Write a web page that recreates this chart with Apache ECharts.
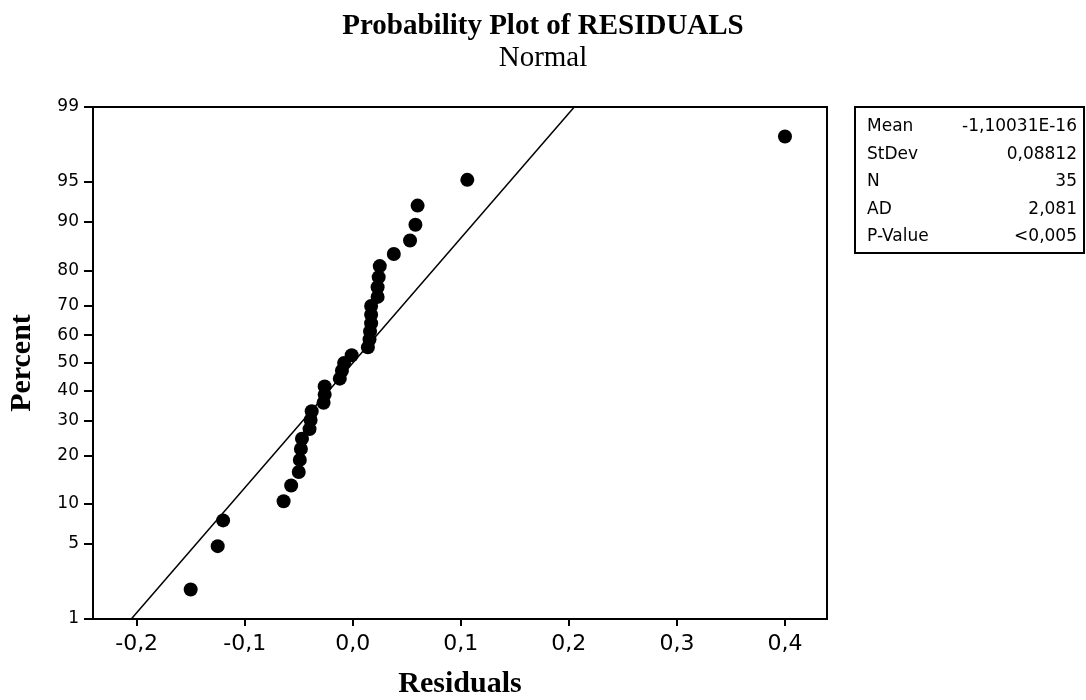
<!DOCTYPE html>
<html>
<head>
<meta charset="utf-8">
<script src="https://cdn.jsdelivr.net/npm/echarts@6/dist/echarts.min.js"></script>
<style>
  html, body { margin: 0; padding: 0; background: #fff; }
  #chart { width: 1086px; height: 700px; }
</style>
</head>
<body>
<div id="chart"></div>
<script>
// residuals, sorted
var residuals = [-0.150, -0.125, -0.120, -0.064, -0.057, -0.050, -0.049, -0.048, -0.047,
  -0.040, -0.039, -0.038, -0.027, -0.026, -0.026, -0.012, -0.010, -0.008, -0.001,
  0.014, 0.0155, 0.016, 0.017, 0.017, 0.017, 0.023, 0.023, 0.024, 0.025,
  0.038, 0.053, 0.058, 0.060, 0.106, 0.400];
// plotted percent for each point
var percents = [1.98, 4.80, 7.63, 10.45, 13.28, 16.10, 18.93, 21.75, 24.58,
  27.40, 30.23, 33.05, 35.88, 38.70, 41.53, 44.35, 47.18, 50.00, 52.82,
  55.65, 58.47, 61.30, 64.12, 66.95, 69.77, 72.60, 75.42, 78.25, 81.07,
  83.90, 86.72, 89.55, 92.37, 95.20, 98.02];
// fitted normal line (ends at 1% and 99%)
var fitX = [-0.205, 0.205];
var fitP = [1, 99];
// axis ticks
var yTickPercents = [1, 5, 10, 20, 30, 40, 50, 60, 70, 80, 90, 95, 99];
var xTicks = [-0.2, -0.1, 0.0, 0.1, 0.2, 0.3, 0.4];
// stats table
var statNames = ['Mean', 'StDev', 'N', 'AD', 'P-Value'];
var statValues = ['-1,10031E-16', '0,08812', '35', '2,081', '<0,005'];

// inverse normal cdf (Acklam) -> probability scale
function probit(p) {
  var a = [-3.969683028665376e+01, 2.209460984245205e+02, -2.759285104469687e+02, 1.383577518672690e+02, -3.066479806614716e+01, 2.506628277459239e+00];
  var b = [-5.447609879822406e+01, 1.615858368580409e+02, -1.556989798598866e+02, 6.680131188771972e+01, -1.328068155288572e+01];
  var c = [-7.784894002430293e-03, -3.223964580411365e-01, -2.400758277161838e+00, -2.549732539343734e+00, 4.374664141464968e+00, 2.938163982698783e+00];
  var d = [7.784695709041462e-03, 3.224671290700398e-01, 2.445134137142996e+00, 3.754408661907416e+00];
  var pl = 0.02425, q, r;
  if (p < pl) {
    q = Math.sqrt(-2 * Math.log(p));
    return (((((c[0]*q+c[1])*q+c[2])*q+c[3])*q+c[4])*q+c[5]) / ((((d[0]*q+d[1])*q+d[2])*q+d[3])*q+1);
  }
  if (p <= 1 - pl) {
    q = p - 0.5; r = q * q;
    return (((((a[0]*r+a[1])*r+a[2])*r+a[3])*r+a[4])*r+a[5])*q / (((((b[0]*r+b[1])*r+b[2])*r+b[3])*r+b[4])*r+1);
  }
  q = Math.sqrt(-2 * Math.log(1 - p));
  return -(((((c[0]*q+c[1])*q+c[2])*q+c[3])*q+c[4])*q+c[5]) / ((((d[0]*q+d[1])*q+d[2])*q+d[3])*q+1);
}
function z(pct) { return probit(pct / 100); }

var yTicks = yTickPercents.map(z);
var points = residuals.map(function (v, i) { return [v, z(percents[i])]; });
var fitLine = fitX.map(function (v, i) { return [v, z(fitP[i])]; });

var tickFont = 'DejaVu Sans';
var serif = 'Liberation Serif';

var gridL = 93, gridT = 107, gridW = 734, gridH = 512;
var boxX = 855, boxY = 107, boxW = 229, boxH = 146, rowH = 27.4;

var graphics = [{
  type: 'rect',
  shape: { x: boxX, y: boxY, width: boxW, height: boxH },
  style: { fill: null, stroke: '#000', lineWidth: 2 }
}];
statNames.forEach(function (n, i) {
  graphics.push({
    type: 'text', x: boxX + 12, y: boxY + 20 + i * rowH,
    style: { text: n, fontFamily: tickFont, fontSize: 17, fill: '#000', verticalAlign: 'middle', align: 'left' }
  });
  graphics.push({
    type: 'text', x: 1077, y: boxY + 20 + i * rowH,
    style: { text: statValues[i], fontFamily: tickFont, fontSize: 17, fill: '#000', verticalAlign: 'middle', align: 'right' }
  });
});

var myChart = echarts.init(document.getElementById('chart'));
myChart.setOption({
  animation: false,
  backgroundColor: '#fff',
  title: {
    text: 'Probability Plot of RESIDUALS',
    subtext: 'Normal',
    left: 'center',
    top: 7,
    itemGap: 3,
    textStyle: { fontFamily: serif, fontWeight: 'bold', fontSize: 29, color: '#000' },
    subtextStyle: { fontFamily: serif, fontSize: 29, color: '#000' }
  },
  grid: {
    left: gridL, top: gridT, width: gridW, height: gridH,
    outerBoundsMode: 'none',
    containLabel: false,
    show: true, borderColor: '#000', borderWidth: 2, backgroundColor: '#fff'
  },
  xAxis: {
    type: 'value',
    min: -0.2404, max: 0.4389,
    name: 'Residuals',
    nameLocation: 'middle',
    nameGap: 50,
    nameTextStyle: { fontFamily: serif, fontWeight: 'bold', fontSize: 30, color: '#000' },
    axisLine: { show: true, onZero: false, lineStyle: { color: '#000', width: 2 } },
    axisTick: { show: true, length: 7, customValues: xTicks, lineStyle: { color: '#000', width: 2 } },
    axisLabel: {
      customValues: xTicks, margin: 14,
      fontFamily: tickFont, fontSize: 22, color: '#000',
      formatter: function (v) { return v.toFixed(1).replace('.', ','); }
    },
    splitLine: { show: false }
  },
  yAxis: {
    type: 'value',
    min: yTicks[0], max: yTicks[yTicks.length - 1],
    name: 'Percent',
    nameLocation: 'middle',
    nameGap: 56,
    nameTextStyle: { fontFamily: serif, fontWeight: 'bold', fontSize: 30, color: '#000' },
    axisLine: { show: true, onZero: false, lineStyle: { color: '#000', width: 2 } },
    axisTick: { show: true, length: 9, customValues: yTicks, lineStyle: { color: '#000', width: 2 } },
    axisLabel: {
      customValues: yTicks, margin: 14,
      fontFamily: tickFont, fontSize: 17, color: '#000',
      formatter: function (v) {
        for (var i = 0; i < yTicks.length; i++) {
          if (Math.abs(yTicks[i] - v) < 1e-6) return String(yTickPercents[i]);
        }
        return '';
      }
    },
    splitLine: { show: false }
  },
  series: [{
    type: 'line',
    data: fitLine,
    symbol: 'none',
    lineStyle: { color: '#000', width: 1.5 },
    silent: true,
    z: 2
  }, {
    type: 'scatter',
    data: points,
    symbol: 'circle',
    symbolSize: 14,
    itemStyle: { color: '#000', opacity: 1 },
    z: 3
  }],
  graphic: graphics
});
</script>
</body>
</html>
